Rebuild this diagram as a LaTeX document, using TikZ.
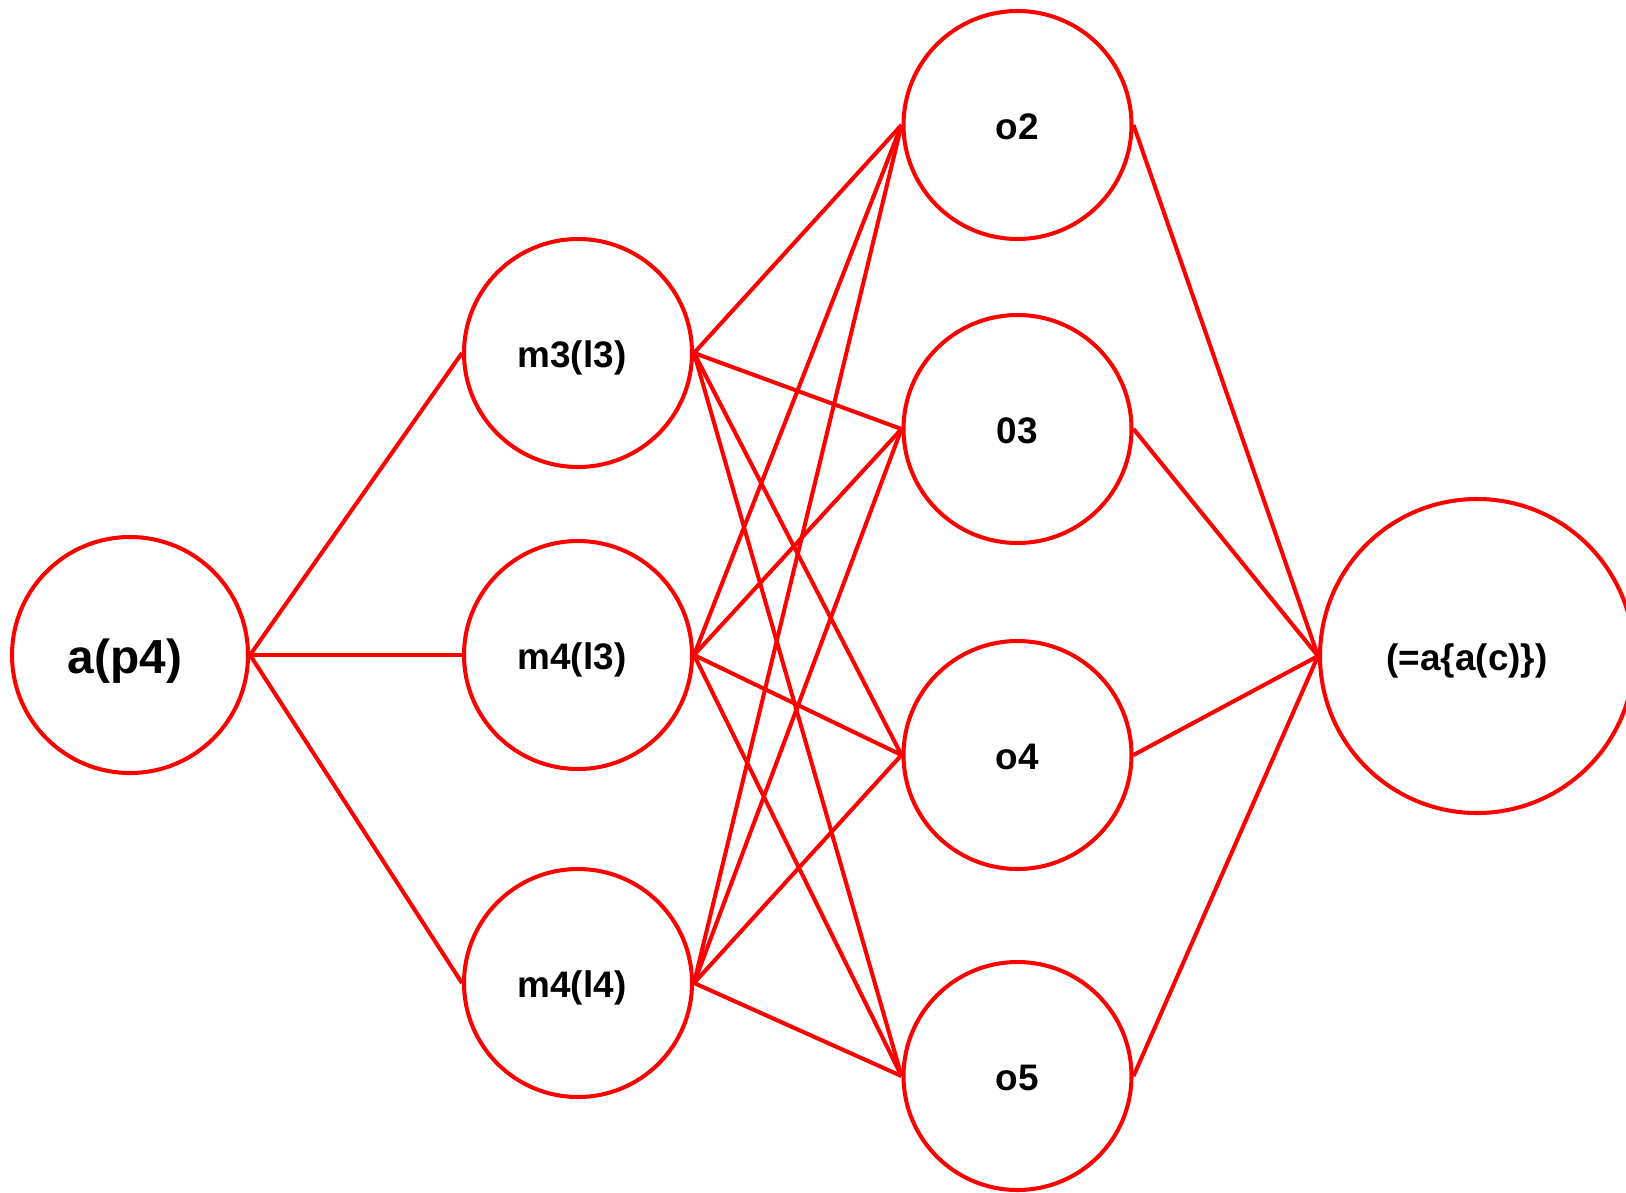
\documentclass[tikz,border=0pt]{standalone}
\usepackage{fontspec}
\setmainfont{Liberation Sans}

\begin{document}
\begin{tikzpicture}[
    neurone/.style={circle, draw=red, line width=1.15pt, minimum size=2.28cm, inner sep=0pt,
        text height=10.4pt, text depth=2.2pt, font=\bfseries\fontsize{10.5}{12}\selectfont},
    lien/.style={red, line width=1.15pt}
]
    \useasboundingbox (0,0) rectangle (16.26,-11.92);

    % Entrée
    \node[neurone, minimum size=2.36cm, text height=13.5pt, text depth=2.9pt,
        font=\bfseries\fontsize{13.6}{16}\selectfont] (ap4) at (1.30,-6.55) {a(p4)\kern1mm};

    % Couche cachée
    \node[neurone] (m3l3) at (5.78,-3.53) {m3(l3)\kern1.2mm};
    \node[neurone] (m4l3) at (5.78,-6.55) {m4(l3)\kern1.2mm};
    \node[neurone] (m4l4) at (5.78,-9.83) {m4(l4)\kern1.2mm};

    % Couche de sortie
    \node[neurone] (o2) at (10.175,-1.25) {o2};
    \node[neurone] (o3) at (10.175,-4.29) {03};
    \node[neurone] (o4) at (10.175,-7.55) {o4};
    \node[neurone] (o5) at (10.175,-10.76) {o5};

    % Résultat
    \node[neurone, minimum size=3.14cm] (res) at (14.77,-6.56) {(=a\{a(c)\})\kern2mm};

    % Liens
    \foreach \m in {m3l3, m4l3, m4l4} {
        \draw[lien] (ap4.east) -- (\m.west);
        \foreach \o in {o2, o3, o4, o5} {
            \draw[lien] (\m.east) -- (\o.west);
        }
    }
    \foreach \o in {o2, o3, o4, o5} {
        \draw[lien] (\o.east) -- (res.west);
    }
\end{tikzpicture}
\end{document}
